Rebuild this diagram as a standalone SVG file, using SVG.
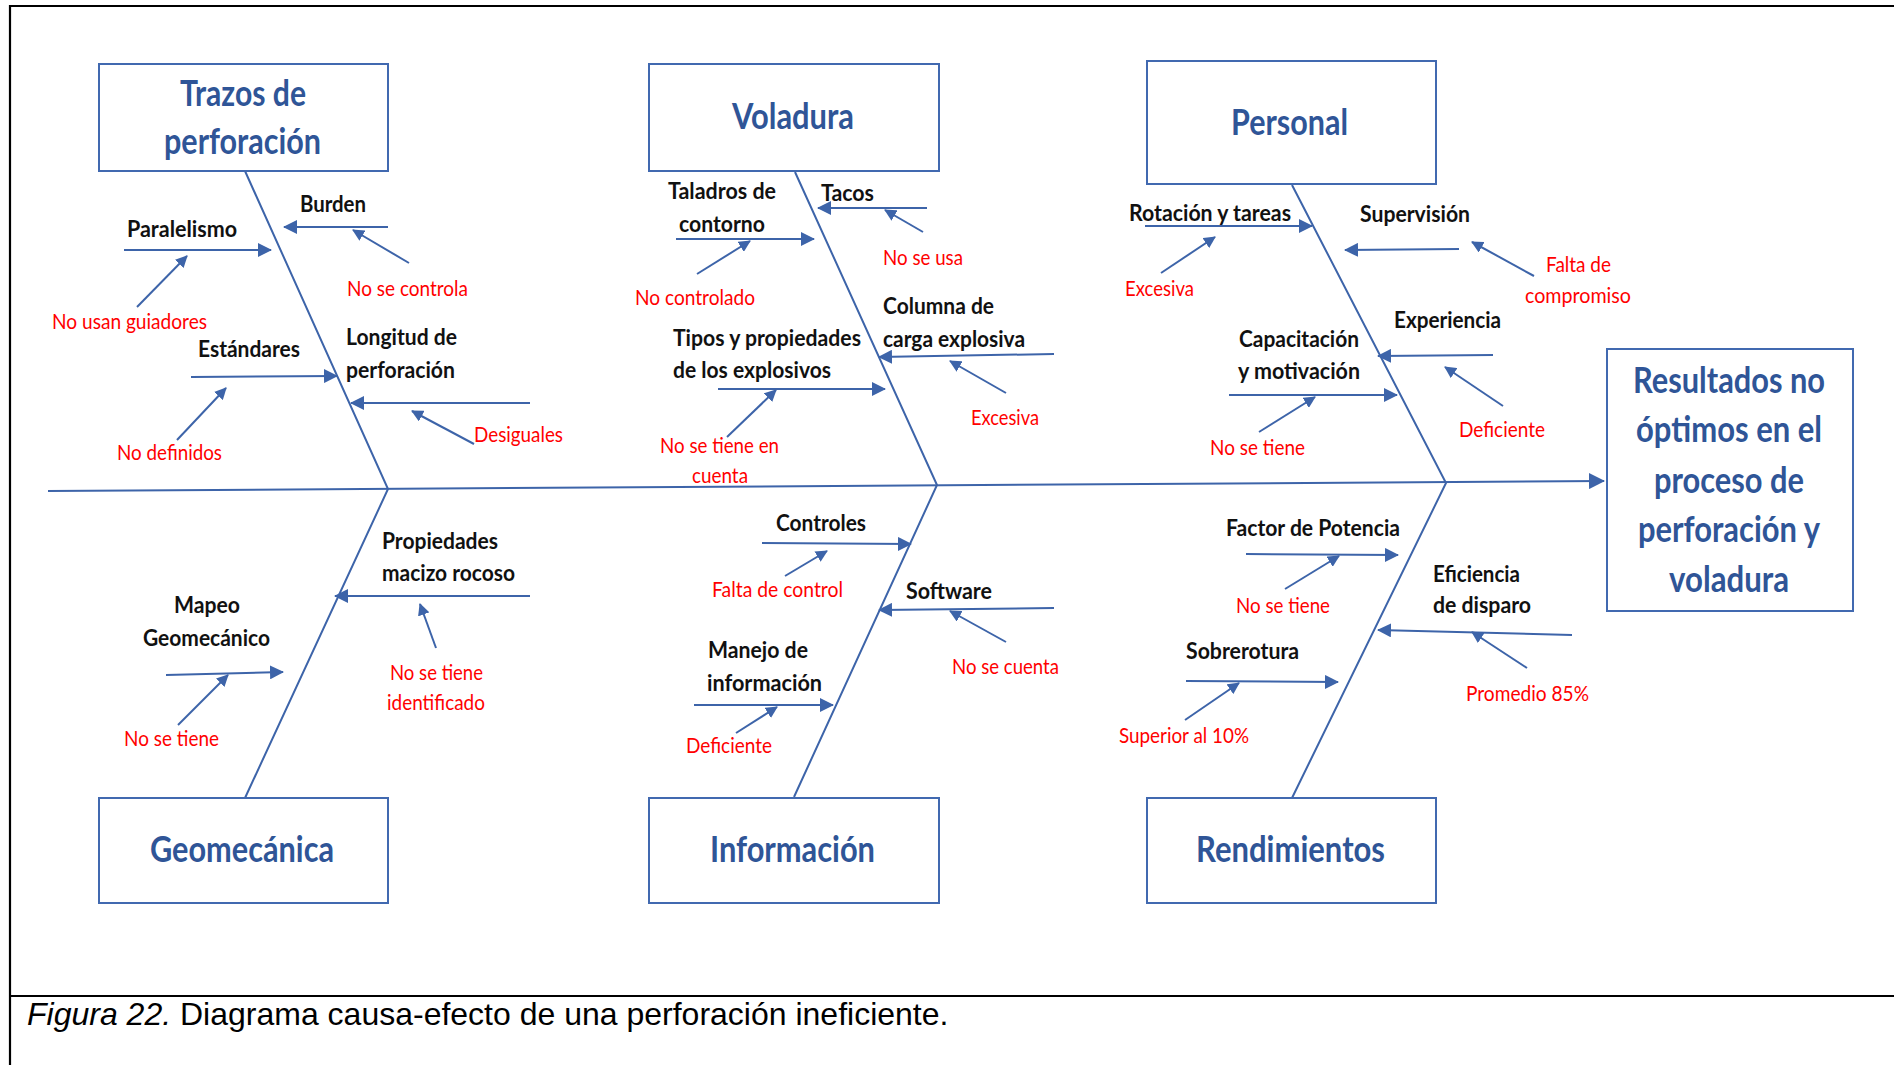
<svg xmlns="http://www.w3.org/2000/svg" width="1894" height="1065" viewBox="0 0 1894 1065">
<style>
.frame{stroke:#000;stroke-width:2.2;fill:none}
.ln{stroke:#3D64A9;stroke-width:2;fill:none}
.ar{marker-end:url(#ah)}
.sa{marker-end:url(#ah2)}
.box{fill:#fff;stroke:#4169B0;stroke-width:2}
.title{font-family:Lato,'Open Sans','Liberation Sans',sans-serif;font-weight:700;font-size:37px;fill:#2F5597}
.lbl{font-family:Lato,'Open Sans','Liberation Sans',sans-serif;font-weight:700;font-size:22px;fill:#111}
.red{font-family:Lato,'Open Sans','Liberation Sans',sans-serif;font-size:21px;fill:#FF0000}
.cap{font-family:'Liberation Sans',Arial,sans-serif;font-size:32px;fill:#000}
</style>
<defs>
<marker id="ah" markerUnits="userSpaceOnUse" markerWidth="14" markerHeight="14" viewBox="0 0 14 14" refX="13" refY="7" orient="auto"><path d="M0,0 L14,7 L0,14 z" fill="#3D64A9"/></marker>
<marker id="ah2" markerUnits="userSpaceOnUse" markerWidth="12" markerHeight="12" viewBox="0 0 12 12" refX="11" refY="6" orient="auto"><path d="M0,0 L12,6 L0,12 z" fill="#3D64A9"/></marker>
<marker id="ah3" markerUnits="userSpaceOnUse" markerWidth="16" markerHeight="16" viewBox="0 0 16 16" refX="15" refY="8" orient="auto"><path d="M0,0 L16,8 L0,16 z" fill="#3D64A9"/></marker>
</defs>
<rect x="0" y="0" width="1894" height="1065" fill="#fff"/>
<g id="frame">
<line class="frame" x1="10" y1="6" x2="1894" y2="6"/>
<line class="frame" x1="10" y1="5" x2="10" y2="1065"/>
<line class="frame" x1="10" y1="996" x2="1894" y2="996"/>
<text class="cap" x="27" y="1025"><tspan font-style="italic">Figura 22.</tspan> Diagrama causa-efecto de una perforación ineficiente.</text>
</g>
<g id="connectors">
<line class="ln" x1="48" y1="491" x2="1604" y2="481" marker-end="url(#ah3)"/>
<polyline class="ln" points="245,171 388,489 245,798"/>
<polyline class="ln" points="795,172 937,485 794,797"/>
<polyline class="ln" points="1292,185 1446,483 1292,798"/>
<!-- Trazos -->
<line class="ln ar" x1="388" y1="227" x2="284" y2="227"/>
<line class="ln ar" x1="124" y1="250" x2="271" y2="250"/>
<line class="ln ar" x1="191" y1="377" x2="337" y2="376"/>
<line class="ln ar" x1="530" y1="403" x2="351" y2="403"/>
<line class="ln sa" x1="409" y1="263" x2="353" y2="230"/>
<line class="ln sa" x1="137" y1="307" x2="187" y2="256"/>
<line class="ln sa" x1="177" y1="440" x2="226" y2="388"/>
<line class="ln sa" x1="474" y1="444" x2="412" y2="411"/>
<!-- Voladura -->
<line class="ln ar" x1="676" y1="239" x2="814" y2="239"/>
<line class="ln ar" x1="927" y1="208" x2="818" y2="208"/>
<line class="ln ar" x1="718" y1="389" x2="885" y2="389"/>
<line class="ln ar" x1="1054" y1="354" x2="879" y2="357"/>
<line class="ln sa" x1="697" y1="274" x2="750" y2="241"/>
<line class="ln sa" x1="923" y1="232" x2="885" y2="210"/>
<line class="ln sa" x1="727" y1="437" x2="776" y2="390"/>
<line class="ln sa" x1="1006" y1="393" x2="950" y2="361"/>
<!-- Personal -->
<line class="ln ar" x1="1145" y1="226" x2="1312" y2="226"/>
<line class="ln ar" x1="1459" y1="249" x2="1345" y2="250"/>
<line class="ln ar" x1="1493" y1="355" x2="1378" y2="356"/>
<line class="ln ar" x1="1229" y1="395" x2="1397" y2="395"/>
<line class="ln sa" x1="1161" y1="273" x2="1215" y2="237"/>
<line class="ln sa" x1="1534" y1="276" x2="1472" y2="242"/>
<line class="ln sa" x1="1503" y1="406" x2="1445" y2="367"/>
<line class="ln sa" x1="1259" y1="432" x2="1315" y2="397"/>
<!-- Geomecanica -->
<line class="ln ar" x1="530" y1="596" x2="335" y2="596"/>
<line class="ln ar" x1="166" y1="675" x2="283" y2="672"/>
<line class="ln sa" x1="436" y1="648" x2="420" y2="604"/>
<line class="ln sa" x1="178" y1="725" x2="228" y2="675"/>
<!-- Informacion -->
<line class="ln ar" x1="762" y1="543" x2="911" y2="544"/>
<line class="ln ar" x1="1054" y1="608" x2="879" y2="610"/>
<line class="ln ar" x1="694" y1="705" x2="833" y2="705"/>
<line class="ln sa" x1="785" y1="576" x2="827" y2="551"/>
<line class="ln sa" x1="1006" y1="642" x2="950" y2="611"/>
<line class="ln sa" x1="736" y1="733" x2="777" y2="707"/>
<!-- Rendimientos -->
<line class="ln ar" x1="1246" y1="554" x2="1398" y2="555"/>
<line class="ln ar" x1="1572" y1="635" x2="1378" y2="630"/>
<line class="ln ar" x1="1186" y1="681" x2="1338" y2="682"/>
<line class="ln sa" x1="1285" y1="589" x2="1339" y2="556"/>
<line class="ln sa" x1="1527" y1="668" x2="1472" y2="632"/>
<line class="ln sa" x1="1185" y1="720" x2="1239" y2="683"/>
</g>
<g id="node-trazos">
<rect class="box" x="99" y="64" width="289" height="107"/>
<text class="title" x="180" y="106" textLength="126" lengthAdjust="spacingAndGlyphs">Trazos de</text>
<text class="title" x="164" y="154" textLength="157" lengthAdjust="spacingAndGlyphs">perforación</text>
<text class="lbl" x="300" y="212" textLength="66" lengthAdjust="spacingAndGlyphs">Burden</text>
<text class="lbl" x="127" y="237" textLength="110" lengthAdjust="spacingAndGlyphs">Paralelismo</text>
<text class="lbl" x="198" y="357" textLength="102" lengthAdjust="spacingAndGlyphs">Estándares</text>
<text class="lbl" x="346" y="345" textLength="111" lengthAdjust="spacingAndGlyphs">Longitud de</text>
<text class="lbl" x="346" y="378" textLength="109" lengthAdjust="spacingAndGlyphs">perforación</text>
<text class="red" x="347" y="296" textLength="121" lengthAdjust="spacingAndGlyphs">No se controla</text>
<text class="red" x="52" y="329" textLength="155" lengthAdjust="spacingAndGlyphs">No usan guiadores</text>
<text class="red" x="117" y="460" textLength="105" lengthAdjust="spacingAndGlyphs">No definidos</text>
<text class="red" x="474" y="442" textLength="89" lengthAdjust="spacingAndGlyphs">Desiguales</text>
</g>
<g id="node-voladura">
<rect class="box" x="649" y="64" width="290" height="107"/>
<text class="title" x="732" y="129" textLength="122" lengthAdjust="spacingAndGlyphs">Voladura</text>
<text class="lbl" x="668" y="199" textLength="108" lengthAdjust="spacingAndGlyphs">Taladros de</text>
<text class="lbl" x="679" y="232" textLength="86" lengthAdjust="spacingAndGlyphs">contorno</text>
<text class="lbl" x="821" y="201" textLength="53" lengthAdjust="spacingAndGlyphs">Tacos</text>
<text class="lbl" x="673" y="346" textLength="188" lengthAdjust="spacingAndGlyphs">Tipos y propiedades</text>
<text class="lbl" x="673" y="378" textLength="158" lengthAdjust="spacingAndGlyphs">de los explosivos</text>
<text class="lbl" x="883" y="314" textLength="111" lengthAdjust="spacingAndGlyphs">Columna de</text>
<text class="lbl" x="883" y="347" textLength="142" lengthAdjust="spacingAndGlyphs">carga explosiva</text>
<text class="red" x="635" y="305" textLength="120" lengthAdjust="spacingAndGlyphs">No controlado</text>
<text class="red" x="883" y="265" textLength="80" lengthAdjust="spacingAndGlyphs">No se usa</text>
<text class="red" x="660" y="453" textLength="119" lengthAdjust="spacingAndGlyphs">No se tiene en</text>
<text class="red" x="692" y="483" textLength="56" lengthAdjust="spacingAndGlyphs">cuenta</text>
<text class="red" x="971" y="425" textLength="68" lengthAdjust="spacingAndGlyphs">Excesiva</text>
</g>
<g id="node-personal">
<rect class="box" x="1147" y="61" width="289" height="123"/>
<text class="title" x="1231" y="135" textLength="117" lengthAdjust="spacingAndGlyphs">Personal</text>
<text class="lbl" x="1129" y="221" textLength="162" lengthAdjust="spacingAndGlyphs">Rotación y tareas</text>
<text class="lbl" x="1360" y="222" textLength="110" lengthAdjust="spacingAndGlyphs">Supervisión</text>
<text class="lbl" x="1394" y="328" textLength="107" lengthAdjust="spacingAndGlyphs">Experiencia</text>
<text class="lbl" x="1239" y="347" textLength="120" lengthAdjust="spacingAndGlyphs">Capacitación</text>
<text class="lbl" x="1238" y="379" textLength="122" lengthAdjust="spacingAndGlyphs">y motivación</text>
<text class="red" x="1125" y="296" textLength="69" lengthAdjust="spacingAndGlyphs">Excesiva</text>
<text class="red" x="1546" y="272" textLength="65" lengthAdjust="spacingAndGlyphs">Falta de</text>
<text class="red" x="1525" y="303" textLength="106" lengthAdjust="spacingAndGlyphs">compromiso</text>
<text class="red" x="1459" y="437" textLength="86" lengthAdjust="spacingAndGlyphs">Deficiente</text>
<text class="red" x="1210" y="455" textLength="95" lengthAdjust="spacingAndGlyphs">No se tiene</text>
</g>
<g id="node-geomecanica">
<rect class="box" x="99" y="798" width="289" height="105"/>
<text class="title" x="150" y="862" textLength="184" lengthAdjust="spacingAndGlyphs">Geomecánica</text>
<text class="lbl" x="382" y="549" textLength="116" lengthAdjust="spacingAndGlyphs">Propiedades</text>
<text class="lbl" x="382" y="581" textLength="133" lengthAdjust="spacingAndGlyphs">macizo rocoso</text>
<text class="lbl" x="174" y="613" textLength="66" lengthAdjust="spacingAndGlyphs">Mapeo</text>
<text class="lbl" x="143" y="646" textLength="127" lengthAdjust="spacingAndGlyphs">Geomecánico</text>
<text class="red" x="390" y="680" textLength="93" lengthAdjust="spacingAndGlyphs">No se tiene</text>
<text class="red" x="387" y="710" textLength="98" lengthAdjust="spacingAndGlyphs">identificado</text>
<text class="red" x="124" y="746" textLength="95" lengthAdjust="spacingAndGlyphs">No se tiene</text>
</g>
<g id="node-informacion">
<rect class="box" x="649" y="798" width="290" height="105"/>
<text class="title" x="710" y="862" textLength="165" lengthAdjust="spacingAndGlyphs">Información</text>
<text class="lbl" x="776" y="531" textLength="90" lengthAdjust="spacingAndGlyphs">Controles</text>
<text class="lbl" x="906" y="599" textLength="86" lengthAdjust="spacingAndGlyphs">Software</text>
<text class="lbl" x="708" y="658" textLength="100" lengthAdjust="spacingAndGlyphs">Manejo de</text>
<text class="lbl" x="707" y="691" textLength="115" lengthAdjust="spacingAndGlyphs">información</text>
<text class="red" x="712" y="597" textLength="131" lengthAdjust="spacingAndGlyphs">Falta de control</text>
<text class="red" x="952" y="674" textLength="107" lengthAdjust="spacingAndGlyphs">No se cuenta</text>
<text class="red" x="686" y="753" textLength="86" lengthAdjust="spacingAndGlyphs">Deficiente</text>
</g>
<g id="node-rendimientos">
<rect class="box" x="1147" y="798" width="289" height="105"/>
<text class="title" x="1196" y="862" textLength="189" lengthAdjust="spacingAndGlyphs">Rendimientos</text>
<text class="lbl" x="1226" y="536" textLength="174" lengthAdjust="spacingAndGlyphs">Factor de Potencia</text>
<text class="lbl" x="1433" y="582" textLength="87" lengthAdjust="spacingAndGlyphs">Eficiencia</text>
<text class="lbl" x="1433" y="613" textLength="98" lengthAdjust="spacingAndGlyphs">de disparo</text>
<text class="lbl" x="1186" y="659" textLength="113" lengthAdjust="spacingAndGlyphs">Sobrerotura</text>
<text class="red" x="1236" y="613" textLength="94" lengthAdjust="spacingAndGlyphs">No se tiene</text>
<text class="red" x="1466" y="701" textLength="123" lengthAdjust="spacingAndGlyphs">Promedio 85%</text>
<text class="red" x="1119" y="743" textLength="130" lengthAdjust="spacingAndGlyphs">Superior al 10%</text>
</g>
<g id="node-efecto">
<rect class="box" x="1607" y="349" width="246" height="262"/>
<text class="title" x="1633" y="393" textLength="192" lengthAdjust="spacingAndGlyphs">Resultados no</text>
<text class="title" x="1636" y="442" textLength="186" lengthAdjust="spacingAndGlyphs">óptimos en el</text>
<text class="title" x="1654" y="493" textLength="150" lengthAdjust="spacingAndGlyphs">proceso de</text>
<text class="title" x="1638" y="542" textLength="182" lengthAdjust="spacingAndGlyphs">perforación y</text>
<text class="title" x="1669" y="592" textLength="120" lengthAdjust="spacingAndGlyphs">voladura</text>
</g>
</svg>
